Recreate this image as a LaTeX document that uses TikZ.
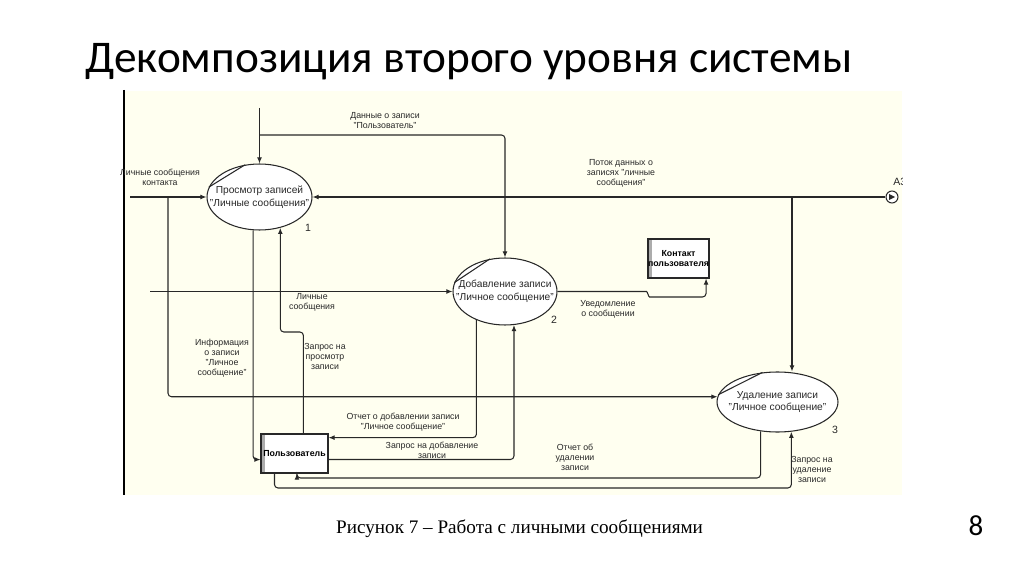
\documentclass[tikz,border=0pt]{standalone}
\usepackage{fontspec}
\setmainfont{Liberation Sans}
\newfontfamily\titlefont{Carlito}
\newfontfamily\capfont{Liberation Serif}
\usetikzlibrary{arrows.meta,shapes.geometric}
\definecolor{paper}{RGB}{255,255,240}
\definecolor{ink}{RGB}{40,40,40}
\tikzset{
  proc/.style={draw=ink, ellipse, fill=white, inner sep=0pt, line width=0.6pt},
  ptext/.style={font=\fontsize{5.8}{7.2}\selectfont, align=center, text=ink},
  store/.style={draw=ink, rectangle, fill=white, inner sep=0pt, line width=0.6pt, minimum height=0.78cm, font=\bfseries\fontsize{5}{6}\selectfont, align=center,
    path picture={\fill[gray!65] (path picture bounding box.south west) rectangle ([xshift=2pt]path picture bounding box.north west);}},
  lbl/.style={font=\fontsize{5}{5.7}\selectfont, align=center, text=ink, inner sep=0pt},
  num/.style={font=\fontsize{6}{7}\selectfont, text=ink, inner sep=0pt},
  flow/.style={draw=ink, line width=0.6pt, -{Latex[length=3.5pt,width=2.8pt]}, rounded corners=2pt},
}
\begin{document}
\begin{tikzpicture}[x=0.02cm, y=-0.02cm]
\useasboundingbox[fill=white] (0,0) rectangle (1024,574);
\fill[paper] (125,91) rectangle (902,495);
\draw[line width=0.7pt] (124,90) -- (124,495);

\node[anchor=base west, font=\titlefont\fontsize{25.8}{28}\selectfont] (title) at (79,73) {Декомпозиция второго уровня системы};
\node[anchor=base west, font=\capfont\fontsize{10.9}{13}\selectfont] (caption) at (330,533) {Рисунок 7 – Работа с личными сообщениями};
\node[anchor=base, font=\titlefont\fontsize{16.5}{18}\selectfont] (page) at (976,535) {8};

% processes
\node[proc, minimum width=2.1cm, minimum height=1.32cm, label={[ptext]center:{Просмотр записей\\"Личные сообщения"}}] (view) at (259.5,197) {};
\node[proc, minimum width=2.08cm, minimum height=1.34cm, label={[ptext]center:{Добавление записи\\"Личное сообщение"}}] (add) at (505,291.5) {};
\node[proc, minimum width=2.42cm, minimum height=1.2cm, label={[ptext]center:{Удаление записи\\"Личное сообщение"}}] (del) at (777.5,402) {};
\draw[ink, line width=0.6pt] (view.169) -- (view.114);
\draw[ink, line width=0.6pt] (add.170) -- (add.115);
\draw[ink, line width=0.6pt] (del.173) -- (del.117);
\node[num] (n1) at (308,228) {1};
\node[num] (n2) at (554,320) {2};
\node[num] (n3) at (835,430) {3};

% stores
\node[store, minimum width=1.34cm] (user) at (294.5,453.5) {Пользователь};
\node[store, minimum width=1.1cm] (contact) at (678.5,258.5) {Контакт\\пользователя};

% external link
\node[draw=ink, circle, minimum size=0.24cm, inner sep=0pt, fill=white, line width=0.6pt] (a3) at (892,197) {};
\fill[ink] (a3.center) ++(-3,-3) -- ++(6,3) -- ++(-6,3) -- cycle;
\begin{scope}
\clip (125,91) rectangle (902,495);
\node[num, anchor=west] (a3lbl) at (893,182) {А3};
\end{scope}

\coordinate (inL) at (130,197);
\coordinate (brL) at (168,197);
\coordinate (topIn) at (259.5,108);
\coordinate (brT) at (259.5,135);
\coordinate (inM) at (150,291.5);
\coordinate (brA) at (792,197);

\draw[flow] (inL) -- (view.west);
\draw[flow] (brL) |- (del.175);
\draw[flow] (topIn) -- (view.north);
\draw[flow] (brT) -| (add.north);
\draw[flow] (a3.west) -- (view.east);
\draw[flow] (brA) -- (brA |- del.north);
\draw[flow] (inM) -- (add.west);
\draw[flow] (view.259) |- (user.190);
\draw[flow] (user.66) -- (user.66 |- 0,332) -| (view.-56);
\draw[flow] (add.-135) |- (user.25);
\draw[flow] (user.-10) -| (add.-75);
\draw[flow] (del.-120) -- (del.-120 |- 0,478) -| (user.-83);
\draw[flow] (user.-135) -- (user.-135 |- 0,488) -| (del.-65);
\draw[flow] (add.east) -- (643,291.5) to[out=0,in=180] (653,297) -| (contact.-36);

% flow labels
\node[lbl] (l1) at (160,177) {Личные сообщения\\контакта};
\node[lbl] (l2) at (385,121) {Данные о записи\\"Пользователь"};
\node[lbl] (l3) at (621,173) {Поток данных о\\записях "личные\\сообщения"};
\node[lbl] (l4) at (312,302) {Личные\\сообщения};
\node[lbl] (l5) at (222,358) {Информация\\о записи\\"Личное\\сообщение"};
\node[lbl] (l6) at (325,356) {Запрос на\\просмотр\\записи};
\node[lbl] (l7) at (403,422) {Отчет о добавлении записи\\"Личное сообщение"};
\node[lbl] (l8) at (432,450) {Запрос на добавление\\записи};
\node[lbl] (l9) at (575,457) {Отчет об\\удалении\\записи};
\node[lbl] (l10) at (812,469) {Запрос на\\удаление\\записи};
\node[lbl] (l11) at (608,309) {Уведомление\\о сообщении};
\end{tikzpicture}
\end{document}
